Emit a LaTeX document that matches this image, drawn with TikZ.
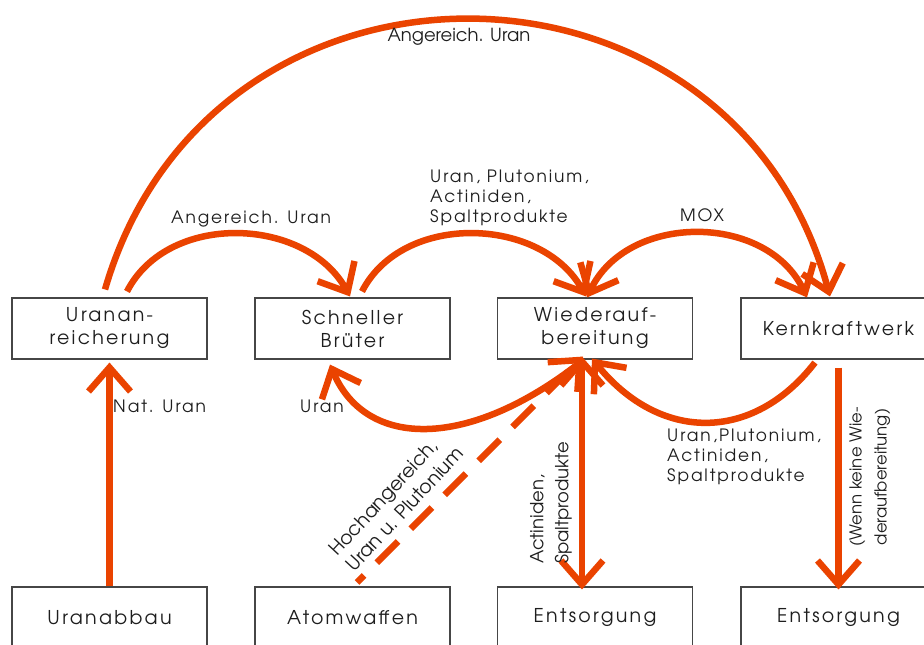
\documentclass[tikz,border=0pt]{standalone}
\usepackage{fontspec}
\setmainfont{texgyreadventor-regular.otf}
\newfontfamily\spaced{texgyreadventor-regular.otf}[LetterSpace=12]
\newfontfamily\spacedl{texgyreadventor-regular.otf}[LetterSpace=11]
\usetikzlibrary{arrows.meta}
\definecolor{arr}{RGB}{234,67,0}
\definecolor{boxc}{RGB}{70,70,70}
\definecolor{txt}{RGB}{30,30,30}
\tikzset{
  box/.style={draw=boxc, line width=1.1pt, minimum width=195pt, minimum height=61pt,
    inner sep=0pt, align=center, text=txt, font=\spaced\fontsize{19}{23}\selectfont},
  tipb/.tip={Straight Barb[length=24pt,width=42pt,sharp]},
  flow/.style={draw=arr, line width=6.5pt, -tipb},
  both/.style={draw=arr, line width=6.5pt, tipb-tipb},
  lbl/.style={font=\spacedl\fontsize{17}{20}\selectfont, inner sep=0pt, text=txt},
  lblc/.style={font=\fontsize{18}{20}\selectfont, inner sep=0pt, text=txt},
}
\begin{document}
\begin{tikzpicture}[x=1pt,y=-1pt]
\useasboundingbox (0,0) rectangle (924,645);
\clip (0,0) rectangle (924,645);
\fill[white] (0,0) rectangle (924,645);
% boxes
\node[box] (ua) at (109.5,328.5) {Uranan-\\reicherung};
\node[box] (sb) at (352.5,328.5) {Schneller\\Brüter};
\node[box] (wa) at (595,328.5) {Wiederauf-\\bereitung};
\node[box] (kk) at (838.5,328.5) {Kernkraftwerk};
\node[box] (ub) at (109.5,617.5) {Uranabbau};
\node[box] (aw) at (352.5,617.5) {Atomwaffen};
\node[box] (e1) at (595,617.5) {Entsorgung};
\node[box] (e2) at (838.5,617.5) {Entsorgung};
% upper arcs
\draw[flow] ([xshift=17.5pt,yshift=6pt]ua.north) .. controls +(41,-80) and +(-44,-80) .. ([xshift=-2.5pt,yshift=1pt]sb.north);
\draw[flow] ([xshift=9.5pt,yshift=6pt]sb.north) .. controls +(41,-80) and +(-44,-80) .. ([xshift=-9pt,yshift=1pt]wa.north);
\draw[both] ([xshift=-8pt]wa.north) .. controls +(40,-85) and +(-40,-85) .. ([xshift=-31.5pt]kk.north);
\draw[flow] ([xshift=-4.5pt,yshift=8pt]ua.north) .. controls +(106,-365) and +(-98,-364) .. ([xshift=-8.5pt,yshift=1pt]kk.north);
% lower arcs
\draw[flow] ([xshift=-15pt,yshift=-3pt]wa.south) .. controls +(-111,87) and +(36,85) .. ([xshift=-22.5pt,yshift=-5pt]sb.south);
\draw[flow] ([xshift=-23.5pt,yshift=-3pt]kk.south) .. controls +(-62,80) and +(68,84) .. ([xshift=-3pt,yshift=1pt]wa.south);
% verticals
\draw[flow] (ub.north) -- ([yshift=-3pt]ua.south);
\draw[both] ([xshift=-13pt,yshift=3pt]wa.south) -- ([xshift=-13pt,yshift=-3pt]e1.north);
\draw[flow] ([yshift=-8pt]kk.south) -- ([yshift=-3pt]e2.north);
\draw[flow, dash pattern=on 30pt off 18pt, dash phase=20pt] ([xshift=4.5pt,yshift=4pt]aw.north) -- ([xshift=-12pt,yshift=3pt]wa.south);
% labels
\node[lblc] (l1) at (459,37) {Angereich. Uran};
\node[lbl] (l2) at (251,219) {Angereich. Uran};
\node[lbl, anchor=west, align=left] (l3) at (430,198) {Uran, Plutonium,\\Actiniden,\\Spaltprodukte};
\node[lbl] (l4) at (702,215) {MOX};
\node[lbl, anchor=west] (l5) at (113,406) {Nat. Uran};
\node[lbl, anchor=west] (l6) at (300,406) {Uran};
\node[lbl, anchor=west, align=left] (l7) at (667,457) {Uran,Plutonium,\\Actiniden,\\Spaltprodukte};
\node[lblc, rotate=47, align=left, font=\fontsize{19}{23.5}\selectfont] (l8) at (396,501) {Hochangereich,\\Uran u. Plutonium};
\node[lblc, rotate=90, anchor=west, align=left, font=\fontsize{18}{25}\selectfont] (l9) at (551,564) {Actiniden,\\Spaltprodukte};
\node[lblc, rotate=90, align=center, font=\fontsize{16.5}{25}\selectfont] (l10) at (870,477) {(Wenn keine Wie-\\deraufbereitung)};
\end{tikzpicture}
\end{document}
